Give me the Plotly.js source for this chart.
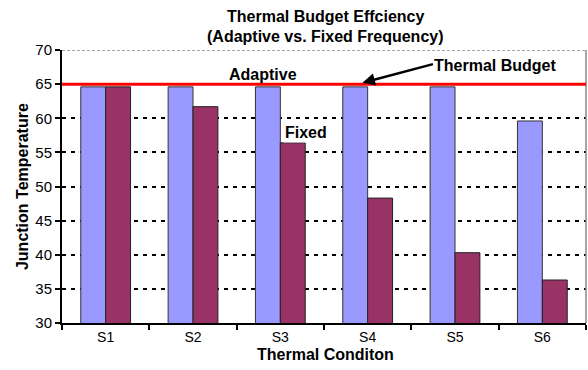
<!DOCTYPE html>
<html><head><meta charset="utf-8">
<script src="https://cdn.plot.ly/plotly-3.0.1.min.js"></script>
<style>html,body{margin:0;padding:0;background:#fff}#c{width:588px;height:370px}</style>
</head><body><div id="c"></div>
<script>
const categories = ["S1","S2","S3","S4","S5","S6"];
const adaptive = [64.6, 64.6, 64.6, 64.6, 64.6, 59.6];
const fixed = [64.6, 61.7, 56.4, 48.3, 40.3, 36.3];
const yTicks = [30,35,40,45,50,55,60,65,70];
const budget = 65;

const F = 'Arial, "Liberation Sans", sans-serif';
const traces = [
  {type:'bar', name:'Adaptive', x:categories, y:adaptive, marker:{color:'#9999FF', line:{color:'#333333', width:1}}},
  {type:'bar', name:'Fixed', x:categories, y:fixed, marker:{color:'#993366', line:{color:'#222222', width:1}}}
];
const layout = {
  width:588, height:370,
  margin:{l:62, r:2, t:50, b:47},
  paper_bgcolor:'#fff', plot_bgcolor:'#fff',
  showlegend:false, barmode:'group', bargap:0.43, bargroupgap:0,
  font:{family:F, size:14, color:'#000'},
  xaxis:{type:'category', showline:true, linecolor:'#000', linewidth:2, ticks:'outside', ticklen:5, tickwidth:2, tickcolor:'#000', tickson:'boundaries', showgrid:false,
    tickfont:{family:F, size:14}},
  yaxis:{range:[30,70], tickvals:yTicks, showline:true, linecolor:'#000', linewidth:2, ticks:'outside', ticklen:5, tickwidth:2, tickcolor:'#000',
    showgrid:true, gridcolor:'#000', gridwidth:2, griddash:'4px,5px', zeroline:false, tickfont:{family:F, size:15}},
  shapes:[
    {type:'line', xref:'paper', yref:'y', x0:0, x1:1, y0:70, y1:70, line:{color:'#fff', width:3}, layer:'above'},
    {type:'line', xref:'paper', yref:'y', x0:0, x1:1, y0:70, y1:70, line:{color:'#888', width:1.5, dash:'3px,2px'}, layer:'above'},
    {type:'line', xref:'paper', yref:'paper', x0:1, x1:1, y0:0, y1:1, line:{color:'#888', width:1.5}, layer:'above'},
    {type:'line', xref:'paper', yref:'y', x0:0, x1:1, y0:budget, y1:budget, line:{color:'#FF0000', width:3}, layer:'above'}
  ],
  annotations:[
    {xref:'paper', yref:'paper', x:0.502, y:1.121, text:'<b>Thermal Budget Effciency</b>', showarrow:false, xanchor:'center', yanchor:'middle', font:{family:F, size:16}},
    {xref:'paper', yref:'paper', x:0.502, y:1.048, text:'<b>(Adaptive vs. Fixed Frequency)</b>', showarrow:false, xanchor:'center', yanchor:'middle', font:{family:F, size:16}},
    {xref:'paper', yref:'paper', x:-0.0763, y:0.498, text:'<b>Junction Temperature</b>', textangle:-90, showarrow:false, xanchor:'center', yanchor:'middle', font:{family:F, size:16}},
    {xref:'paper', yref:'paper', x:0.502, y:-0.117, text:'<b>Thermal Conditon</b>', showarrow:false, xanchor:'center', yanchor:'middle', font:{family:F, size:16}},
    {x:1.80, y:66.34, xref:'x', yref:'y', text:'<b>Adaptive</b>', showarrow:false, font:{family:F, size:16}},
    {x:2.29, y:57.84, xref:'x', yref:'y', text:'<b>Fixed</b>', showarrow:false, bgcolor:'#fff', font:{family:F, size:16}},
    {x:4.456, y:67.8, xref:'x', yref:'y', text:'<b>Thermal Budget</b>', showarrow:false, font:{family:F, size:16}},
    {x:2.94, y:65.2, xref:'x', yref:'y', text:'', showarrow:true, arrowhead:2, arrowsize:1, arrowwidth:2.5, arrowcolor:'#000', ax:72, ay:-19}
  ]
};
Plotly.newPlot('c', traces, layout, {staticPlot:true});
</script></body></html>
